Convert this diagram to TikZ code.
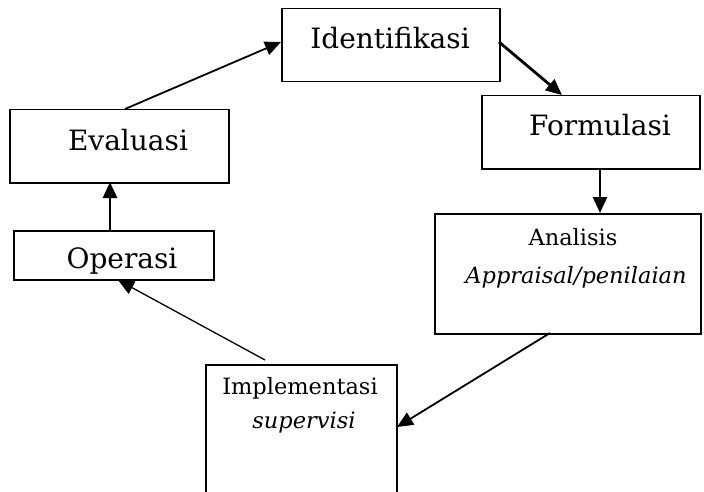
\documentclass[tikz,border=0pt]{standalone}
\usepackage{fontspec}
\setmainfont{DejaVu Serif}
\usetikzlibrary{arrows.meta}
\begin{document}
\begin{tikzpicture}[x=1pt,y=-1pt,
  boxnode/.style={draw,line width=1.5pt,inner sep=0pt,anchor=north west},
  big/.style={font=\fontsize{28}{30}\selectfont,inner sep=0pt},
  small/.style={font=\fontsize{22.5}{24}\selectfont,inner sep=0pt},
  thickarrow/.style={line width=2.8pt,-{Triangle[length=16pt,width=14pt]}},
  thinarrow/.style={line width=1.8pt,-{Triangle[length=16pt,width=14pt]}}]
\useasboundingbox (0,0) rectangle (704,492);
\clip (0,0) rectangle (704,492);
\node[boxnode,minimum width=218pt,minimum height=73pt] (ident) at (281,8) {};
\node[boxnode,minimum width=219pt,minimum height=73pt] (eval) at (9,109) {};
\node[boxnode,minimum width=200pt,minimum height=49pt] (oper) at (13,230) {};
\node[boxnode,minimum width=218pt,minimum height=73pt] (form) at (481,95) {};
\node[boxnode,minimum width=266pt,minimum height=120pt] (anal) at (434,213) {};
\node[boxnode,minimum width=191pt,minimum height=140pt] (impl) at (205,364) {};
\node[big] (tident) at (390,38) {Identifikasi};
\node[big] (teval) at (128,140) {Evaluasi};
\node[big] (toper) at (122,261) {Operasi};
\node[big] (tform) at (600,125) {Formulasi};
\node[small] (tanal1) at (573,237) {Analisis};
\node[small] (tanal2) at (576,277) {\itshape Appraisal/penilaian};
\node[small] (timpl1) at (300,388) {Implementasi};
\node[small] (timpl2) at (304,423) {\itshape supervisi};
\coordinate (e1) at (125,109);
\coordinate (i1) at (281,42);
\coordinate (i2) at (499,42);
\coordinate (f1) at (562,95);
\coordinate (f2) at (600,168);
\coordinate (a1) at (600,213);
\coordinate (a2) at (550,333);
\coordinate (m1) at (397,427);
\coordinate (m2) at (265,360);
\coordinate (o1) at (118,280);
\coordinate (o2) at (110,230);
\coordinate (e2) at (110,182);
\draw[thinarrow] (e1) -- (i1);
\draw[thickarrow] (i2) -- (f1);
\draw[thickarrow] (f2) -- (a1);
\draw[thinarrow] (a2) -- (m1);
\draw[thinarrow,line width=1.3pt] (m2) -- (o1);
\draw[thickarrow] (o2) -- (e2);
\end{tikzpicture}
\end{document}
